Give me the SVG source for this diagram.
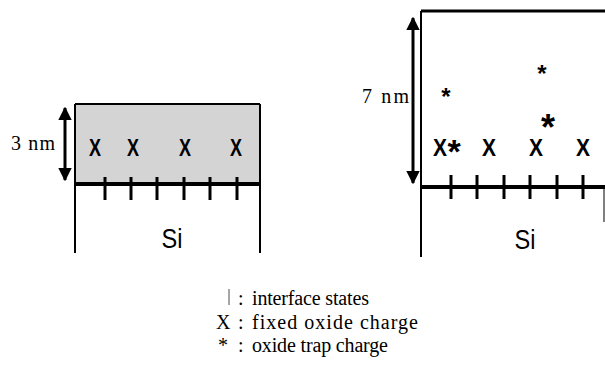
<svg xmlns="http://www.w3.org/2000/svg" width="605" height="379" viewBox="0 0 605 379">
<defs>
<marker id="ah" viewBox="0 0 10 10" refX="9" refY="5" markerWidth="4.5" markerHeight="4.5" orient="auto-start-reverse" markerUnits="strokeWidth"><path d="M0,0 L10,5 L0,10 Z" fill="#000"/></marker>
</defs>
<style>
.ln{stroke:#000;fill:none}
.tick{stroke:#000;stroke-width:3}
.x{font-family:"Liberation Sans",Arial,sans-serif;font-size:23px;text-anchor:middle;font-weight:bold}
.si{font-family:"Liberation Sans",Arial,sans-serif;font-size:27px;text-anchor:middle}
.dim{font-family:"Liberation Serif","Times New Roman",serif;font-size:20px}
.lg{font-family:"Liberation Serif","Times New Roman",serif;font-size:20px}
.ast{font-family:"Liberation Sans",Arial,sans-serif;text-anchor:middle;font-weight:bold}
</style>
<rect width="605" height="379" fill="#fff"/>
<g id="left-panel">
<rect x="75" y="104" width="185" height="80" fill="#d4d4d4"/>
<line class="ln" x1="75" y1="104" x2="260" y2="104" stroke-width="2"/>
<line class="ln" x1="75" y1="104" x2="75" y2="253" stroke-width="2"/>
<line class="ln" x1="260" y1="104" x2="260" y2="253" stroke-width="2"/>
<line class="ln" x1="75" y1="184" x2="260" y2="184" stroke-width="4"/>
<g class="ticks">
<line class="tick" x1="105" y1="177" x2="105" y2="200"/>
<line class="tick" x1="131" y1="177" x2="131" y2="200"/>
<line class="tick" x1="157" y1="177" x2="157" y2="200"/>
<line class="tick" x1="184" y1="177" x2="184" y2="200"/>
<line class="tick" x1="210" y1="177" x2="210" y2="200"/>
<line class="tick" x1="237" y1="177" x2="237" y2="200"/>
</g>
<text class="x" x="95" y="156" textLength="12" lengthAdjust="spacingAndGlyphs">X</text>
<text class="x" x="133" y="156" textLength="12" lengthAdjust="spacingAndGlyphs">X</text>
<text class="x" x="185" y="156" textLength="12" lengthAdjust="spacingAndGlyphs">X</text>
<text class="x" x="236" y="156" textLength="12" lengthAdjust="spacingAndGlyphs">X</text>
<text class="si" x="172" y="248" textLength="21" lengthAdjust="spacingAndGlyphs">Si</text>
<text class="dim" x="11" y="150" textLength="44" lengthAdjust="spacing">3 nm</text>
</g>
<g id="right-panel">
<line class="ln" x1="421" y1="11" x2="605" y2="11" stroke-width="3"/>
<line class="ln" x1="421" y1="11" x2="421" y2="257" stroke-width="2"/>
<line class="ln" x1="604" y1="187" x2="604" y2="222" stroke-width="1"/>
<line class="ln" x1="421" y1="187" x2="605" y2="187" stroke-width="4"/>
<g class="ticks">
<line class="tick" x1="451" y1="175" x2="451" y2="199"/>
<line class="tick" x1="477" y1="175" x2="477" y2="199"/>
<line class="tick" x1="504" y1="175" x2="504" y2="199"/>
<line class="tick" x1="530" y1="175" x2="530" y2="199"/>
<line class="tick" x1="557" y1="175" x2="557" y2="199"/>
<line class="tick" x1="583" y1="175" x2="583" y2="199"/>
</g>
<text class="x" x="440" y="156" font-size="25" textLength="14" lengthAdjust="spacingAndGlyphs">X</text>
<text class="x" x="489" y="156" font-size="25" textLength="14" lengthAdjust="spacingAndGlyphs">X</text>
<text class="x" x="536" y="156" font-size="25" textLength="14" lengthAdjust="spacingAndGlyphs">X</text>
<text class="x" x="583" y="156" font-size="25" textLength="14" lengthAdjust="spacingAndGlyphs">X</text>
<text class="ast" x="446" y="105" font-size="24">*</text>
<text class="ast" x="542" y="82" font-size="24">*</text>
<text class="ast" x="548" y="140" font-size="36">*</text>
<text class="ast" x="454" y="163" font-size="34">*</text>
<text class="si" x="525" y="249" textLength="21" lengthAdjust="spacingAndGlyphs">Si</text>
<text class="dim" x="362" y="103" textLength="47" lengthAdjust="spacing">7 nm</text>
</g>
<g id="connectors">
<line class="ln" x1="65" y1="108" x2="65" y2="180" stroke-width="3" marker-start="url(#ah)" marker-end="url(#ah)"/>
<line class="ln" x1="413" y1="18" x2="413" y2="183" stroke-width="3" marker-start="url(#ah)" marker-end="url(#ah)"/>
</g>
<g id="legend">
<line x1="229" y1="289" x2="229" y2="305" stroke="#888" stroke-width="1.5"/>
<text class="lg" x="238" y="305">:</text>
<text class="lg" x="252" y="305" textLength="117" lengthAdjust="spacing">interface states</text>
<text class="lg" x="216" y="329">X</text>
<text class="lg" x="238" y="329">:</text>
<text class="lg" x="252" y="329" textLength="166" lengthAdjust="spacing">fixed oxide charge</text>
<text class="lg" x="218" y="352">*</text>
<text class="lg" x="238" y="352">:</text>
<text class="lg" x="252" y="352" textLength="136" lengthAdjust="spacing">oxide trap charge</text>
</g>
</svg>
